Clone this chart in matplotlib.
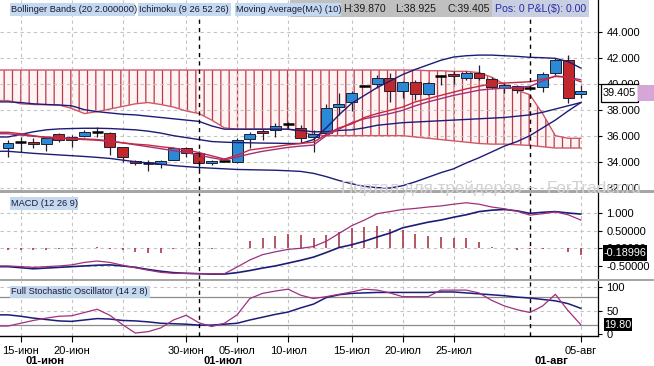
import matplotlib
matplotlib.use("Agg")
import matplotlib.pyplot as plt
from matplotlib.patches import Rectangle
from matplotlib.transforms import blended_transform_factory
import numpy as np

plt.rcParams['font.family'] = ['Liberation Sans', 'DejaVu Sans']
plt.rcParams['hatch.linewidth'] = 0.9

# ---------------- data ----------------
opens = [35.03, 35.49, 35.54, 35.34, 36.11, 35.88, 35.95, 36.30, 36.23, 35.10,
         34.05, 33.93, 33.80, 34.13, 35.03, 34.64, 33.92, 34.05, 33.95, 35.72,
         36.36, 36.42, 36.88, 36.62, 35.92, 36.18, 38.20, 38.57, 39.82, 39.95,
         40.41, 39.44, 40.10, 39.18, 40.58, 40.72, 40.47, 40.85, 40.34, 39.64,
         39.80, 39.66, 39.77, 40.82, 41.82, 39.20]
highs = [35.67, 35.92, 35.80, 35.92, 36.18, 36.05, 36.44, 36.70, 36.25, 35.15,
         34.13, 34.10, 34.13, 35.10, 35.15, 34.82, 34.13, 34.25, 35.80, 36.26,
         36.52, 36.95, 37.05, 36.82, 36.44, 38.42, 39.26, 39.44, 39.90, 40.67,
         40.80, 40.20, 40.28, 40.10, 40.67, 40.95, 40.95, 41.40, 40.50, 40.03,
         39.90, 39.80, 40.92, 41.95, 42.21, 39.87]
lows = [34.38, 34.77, 35.08, 34.82, 35.54, 35.15, 35.92, 35.92, 34.50, 34.00,
        33.75, 33.30, 33.50, 34.10, 34.38, 33.36, 33.75, 33.95, 33.90, 35.03,
        35.67, 35.92, 36.50, 35.41, 34.77, 36.05, 37.60, 37.90, 39.75, 39.64,
        38.62, 38.88, 38.75, 39.10, 39.90, 40.00, 40.30, 40.28, 39.60, 39.26,
        39.26, 39.50, 39.38, 40.67, 38.49, 38.925]
closes = [35.41, 35.49, 35.38, 35.80, 35.65, 35.67, 36.26, 36.30, 35.15, 34.34,
          33.90, 33.93, 34.02, 35.03, 34.69, 33.92, 34.05, 34.05, 35.67, 36.11,
          36.18, 36.75, 36.88, 35.85, 36.11, 38.11, 38.46, 39.26, 39.82, 40.41,
          39.44, 40.10, 39.18, 40.03, 40.58, 40.58, 40.82, 40.41, 39.72, 39.90,
          39.55, 39.66, 40.72, 41.82, 38.90, 39.405]

bb_upper = [35.9, 36.1, 36.3, 36.45, 36.52, 36.55, 36.57, 36.57, 36.55, 36.5,
            36.45, 36.35, 36.2, 36.0, 35.85, 35.7, 35.55, 35.5, 35.47, 35.45,
            35.43, 35.42, 35.4, 35.4, 35.7, 36.6, 37.6, 38.5, 39.1, 39.7,
            40.2, 40.7, 41.1, 41.45, 41.8, 42.05, 42.15, 42.2, 42.2, 42.15,
            42.1, 42.03, 42.0, 41.95, 41.7, 41.2]
bb_lower = [34.8, 34.72, 34.64, 34.58, 34.52, 34.46, 34.4, 34.33, 34.25, 34.12,
            34.0, 33.9, 33.8, 33.7, 33.62, 33.55, 33.5, 33.45, 33.4, 33.38,
            33.36, 33.34, 33.3, 33.25, 33.1, 32.85, 32.55, 32.3, 32.1, 32.0,
            31.97, 32.15, 32.45, 32.8, 33.15, 33.45, 33.9, 34.3, 34.75, 35.2,
            35.55, 36.0, 36.6, 37.2, 37.9, 38.55]
kijun = [38.6, 38.55, 38.45, 38.4, 38.36, 38.3, 38.0, 37.85, 37.75, 37.65,
         37.6, 37.5, 37.4, 37.3, 37.2, 37.1, 36.75, 36.5, 36.5, 36.5,
         36.5, 36.5, 36.5, 36.4, 36.3, 36.3, 36.4, 36.45, 36.6, 36.8,
         36.9, 37.0, 37.05, 37.1, 37.15, 37.2, 37.25, 37.3, 37.35, 37.4,
         37.5, 37.6, 37.8, 38.05, 38.3, 38.55]
tenkan = [36.26, 36.15, 36.0, 35.85, 35.8, 35.75, 35.7, 35.65, 35.55, 35.45,
          35.35, 35.28, 35.15, 35.05, 34.9, 34.7, 34.45, 34.2, 34.5, 34.9,
          35.03, 35.15, 35.3, 35.4, 35.5, 36.1, 36.6, 36.9, 37.4, 37.7,
          37.95, 38.2, 38.6, 38.85, 39.1, 39.35, 39.6, 39.8, 40.0, 40.05,
          40.1, 40.15, 40.35, 40.55, 40.5, 40.15]
ma10 = [36.15, 36.05, 35.95, 35.9, 35.85, 35.8, 35.75, 35.7, 35.6, 35.45,
        35.3, 35.15, 35.0, 34.85, 34.7, 34.5, 34.3, 34.13, 34.35, 34.6,
        34.8, 34.95, 35.1, 35.2, 35.28, 36.0, 36.5, 37.0, 37.3, 37.5,
        37.7, 37.95, 38.3, 38.6, 38.85, 39.1, 39.3, 39.5, 39.6, 39.65,
        39.7, 39.8, 40.2, 40.6, 40.5, 40.3]
senkou_b = [41.05, 41.05, 41.05, 41.05, 41.05, 41.05, 41.05, 41.05, 41.05, 41.05,
            41.05, 41.05, 41.05, 41.05, 41.05, 41.05, 41.05, 41.05, 41.05, 41.05,
            41.05, 41.05, 41.05, 41.05, 41.05, 41.05, 41.05, 41.05, 41.05, 41.05,
            41.05, 41.05, 41.05, 41.0, 41.0, 40.95, 40.95, 40.85, 40.5, 39.95,
            39.5, 39.15, 37.7, 36.0, 35.8, 35.8]
senkou_a = [38.7, 38.45, 38.4, 38.38, 38.36, 38.1, 37.7, 37.85, 38.05, 38.25,
            38.45, 38.55, 38.4, 38.2, 37.9, 37.7, 37.2, 36.6, 36.5, 36.5,
            36.5, 36.5, 36.5, 36.3, 36.05, 36.0, 36.0, 36.0, 36.0, 36.0,
            36.0, 36.0, 35.9, 35.8, 35.7, 35.6, 35.5, 35.4, 35.35, 35.35,
            35.3, 35.25, 35.15, 35.05, 35.05, 35.05]

macd_hist = [-0.06, -0.06, -0.05, -0.05, -0.03, -0.02, 0.02, 0.03, -0.02, -0.05,
             -0.1, -0.14, -0.12, -0.02, 0.0, -0.02, -0.03, 0.0, 0.02, 0.22,
             0.28, 0.35, 0.41, 0.38, 0.28, 0.38, 0.47, 0.57, 0.6, 0.62,
             0.54, 0.51, 0.41, 0.36, 0.33, 0.28, 0.28, 0.19, 0.05, 0.01,
             -0.04, -0.03, -0.03, 0.0, -0.1, -0.19]
macd_line = [-0.5, -0.52, -0.54, -0.52, -0.5, -0.47, -0.4, -0.36, -0.4, -0.48,
             -0.55, -0.62, -0.68, -0.71, -0.71, -0.72, -0.72, -0.72, -0.53, -0.33,
             -0.18, -0.1, -0.03, 0.0, 0.05, 0.2, 0.42, 0.64, 0.8, 0.98,
             1.04, 1.1, 1.13, 1.17, 1.2, 1.25, 1.29, 1.25, 1.17, 1.12,
             1.05, 0.94, 0.98, 1.03, 0.95, 0.8]
macd_signal = [-0.52, -0.55, -0.58, -0.56, -0.54, -0.52, -0.5, -0.48, -0.47, -0.5,
               -0.54, -0.6, -0.65, -0.69, -0.71, -0.72, -0.73, -0.73, -0.69, -0.63,
               -0.56, -0.5, -0.42, -0.34, -0.25, -0.12, 0.02, 0.1, 0.2, 0.32,
               0.43, 0.58, 0.66, 0.74, 0.8, 0.88, 0.95, 1.04, 1.08, 1.1,
               1.06, 0.99, 1.02, 1.04, 1.0, 0.97]

sto_k = [17, 23, 29, 34, 38, 39, 46, 53, 40, 20,
         2, 5, 13, 30, 40, 24, 16, 23, 41, 76,
         87, 92, 96, 83, 76, 80, 85, 90, 96, 94,
         88, 80, 80, 80, 94, 94, 94, 88, 72, 60,
         52, 46, 60, 85, 50, 19.8]
sto_d = [41, 38, 34, 31, 28, 27, 30, 33, 32, 29,
         28, 26, 23, 22, 21, 19, 19, 21, 23, 30,
         36, 42, 47, 56, 64, 78, 84, 87, 88, 89,
         89, 89, 89, 89, 90, 90, 88, 86, 84, 82,
         79, 77, 74, 71, 65, 55]

tick_bars = [1, 5, 14, 18, 22, 27, 31, 35, 45]
tick_labels = ['15-июн', '20-июн', '30-июн', '05-июл', '10-июл',
               '15-июл', '20-июл', '25-июл', '05-авг']
grid_bars = [1, 5, 9, 14, 18, 22, 27, 31, 35, 39, 45]
month_bars = [15, 41]
month_label_bars = [1, 15, 41]
month_labels = ['01-июн', '01-июл', '01-авг']

price_ticks = [32, 34, 36, 38, 40, 42, 44]
macd_ticks = [-0.5, 0.0, 0.5, 1.0]
macd_tick_labels = ['-0.50000', '0.00000', '0.50000', '1.000']
sto_ticks = [0, 50, 100]

last_close = '39.405'
last_macd = '-0.18996'
last_sto = '19.80'

# ---------------- layout ----------------
W, H = 654, 366
fig = plt.figure(figsize=(W / 100, H / 100), dpi=100)
fig.patch.set_facecolor('white')

def rect_px(x0, y0, x1, y1):
    return [x0 / W, 1 - y1 / H, (x1 - x0) / W, (y1 - y0) / H]

AXR = 598
ax_main = fig.add_axes(rect_px(0, 0, AXR, 190))
ax_macd = fig.add_axes(rect_px(0, 193, AXR, 279))
ax_sto = fig.add_axes(rect_px(0, 281, AXR, 336))

n = len(closes)
bars = np.arange(n)
XL, XR = -0.63, 46.35

NAVY = '#1c1c78'
RED_L = '#c8283e'
PURP = '#a0307c'
CLOUD_EDGE = '#d05868'
HATCH = '#b83a4a'
BLUE_C = '#2a8ad8'
RED_C = '#c0282c'
GRID = '#c4c4c4'

def ext(v):
    return np.r_[XL, bars], np.r_[v[0], v]

for ax in (ax_main, ax_macd, ax_sto):
    ax.set_xlim(XL, XR)
    ax.set_facecolor('white')
    for s in ('top', 'left', 'bottom'):
        ax.spines[s].set_visible(False)
    ax.spines['right'].set_color('black')
    ax.spines['right'].set_linewidth(0.9)
    ax.yaxis.tick_right()
    ax.tick_params(axis='y', direction='out', length=3, width=0.8,
                   labelsize=8, pad=3, colors='black')
    for gb in grid_bars:
        ax.axvline(gb, color=GRID, lw=0.8, ls=(0, (3, 3)), zorder=1.5)
    for mb in month_bars:
        ax.axvline(mb, color='black', lw=1.0, ls=(0, (3, 3)), zorder=6)

# ---- main panel ----
ax_main.set_ylim(31.82, 46.44)
ax_main.set_yticks(price_ticks, ['%.3f' % t for t in price_ticks])
ax_main.set_xticks([])
for t in price_ticks:
    ax_main.axhline(t, color=GRID, lw=0.8, ls=(0, (3, 3)), zorder=1.5)

xa, sa = ext(senkou_a)
xb, sb = ext(senkou_b)
ax_main.fill_between(xa, sa, sb, facecolor='#fff3f3', edgecolor=HATCH,
                     hatch='||', linewidth=0, zorder=1)
ax_main.plot(xa, sa, color=CLOUD_EDGE, lw=1.0, zorder=2)
ax_main.plot(xb, sb, color=CLOUD_EDGE, lw=1.0, zorder=2)

bw = 0.86
for i in range(n):
    o, h, l, c = opens[i], highs[i], lows[i], closes[i]
    ax_main.vlines(i, l, h, color='#202030', lw=0.9, zorder=3)
    if c == o:
        ax_main.hlines(o, i - bw / 2, i + bw / 2, color='black', lw=1.8, zorder=3.2)
    else:
        col = BLUE_C if c > o else RED_C
        ax_main.add_patch(Rectangle((i - bw / 2, min(o, c)), bw, abs(c - o),
                                    facecolor=col, edgecolor='#202030',
                                    lw=0.7, zorder=3.1))

for arr, col in ((bb_upper, NAVY), (bb_lower, NAVY), (kijun, NAVY),
                 (ma10, PURP), (tenkan, RED_L)):
    xx, yy = ext(arr)
    ax_main.plot(xx, yy, color=col, lw=1.0, zorder=4)

# ---- MACD panel ----
ax_macd.set_ylim(-0.87, 1.567)
ax_macd.set_yticks(macd_ticks, macd_tick_labels)
ax_macd.set_xticks([])
for t in macd_ticks:
    ax_macd.axhline(t, color=GRID, lw=0.8, ls=(0, (3, 3)), zorder=1.5)
ax_macd.vlines(bars, 0, macd_hist, color='#a02838', lw=1.1, zorder=3)
xx, yy = ext(macd_signal)
ax_macd.plot(xx, yy, color=NAVY, lw=1.2, zorder=4)
xx, yy = ext(macd_line)
ax_macd.plot(xx, yy, color=PURP, lw=0.9, zorder=4)

# ---- Stochastic panel ----
ax_sto.set_ylim(-4.3, 113.5)
ax_sto.set_yticks(sto_ticks, [str(t) for t in sto_ticks])
for t in (50, 100):
    ax_sto.axhline(t, color=GRID, lw=0.8, ls=(0, (3, 3)), zorder=1.5)
for t in (20, 80):
    ax_sto.axhline(t, color='#8c8c8c', lw=0.9, zorder=1.6)
xx, yy = ext(sto_d)
ax_sto.plot(xx, yy, color=NAVY, lw=1.1, zorder=4)
xx, yy = ext(sto_k)
ax_sto.plot(xx, yy, color=PURP, lw=0.9, zorder=4)
ax_sto.spines['bottom'].set_visible(True)
ax_sto.spines['bottom'].set_color('black')
ax_sto.spines['bottom'].set_linewidth(1.0)
ax_sto.set_xticks(tick_bars, tick_labels)
ax_sto.tick_params(axis='x', direction='out', length=4, width=0.8,
                   labelsize=8, pad=3, colors='black')

tr = blended_transform_factory(ax_sto.transData, fig.transFigure)
for mb, ml in zip(month_label_bars, month_labels):
    ax_sto.text(mb + 0.38, 1 - 361 / H, ml, transform=tr, ha='left', va='center',
                fontsize=8, fontweight='bold', color='black', clip_on=False)

# ---------------- figure-level decorations ----------------
def box(x0, y0, x1, y1, fc, ec='none', lw=0, z=10):
    r = Rectangle((x0 / W, 1 - y1 / H), (x1 - x0) / W, (y1 - y0) / H,
                  transform=fig.transFigure, facecolor=fc, edgecolor=ec,
                  linewidth=lw, zorder=z)
    fig.add_artist(r)

def txt(x, y, s, z=11, **kw):
    fig.text(x / W, 1 - y / H, s, va='center', zorder=z, **kw)

# separators between panels
box(0, 190, W, 193, '#a6a6a6', z=9)
box(0, 278.5, W, 281, '#a6a6a6', z=9)

# watermark
txt(341, 188.5, 'Портал для трейдеров', fontsize=12.3, color='#d2d2d2', z=12)
txt(528, 188.5, '-', fontsize=12.3, color='#d2d2d2', z=12)
txt(547, 188.5, 'ForTrader.ru', fontsize=12.3, color='#d2d2d2', z=12)

# top legend bar
LB = '#c4d8ee'
box(290, 0, 492, 17, '#c0c0c0')
box(492, 0, 589, 17, '#c8cfe0')
box(10, 3, 135, 16, LB, z=10.5)
box(138, 3, 231, 16, LB, z=10.5)
box(235, 3, 341, 16, LB, z=10.5)
txt(11, 9.5, 'Bollinger Bands (20 2.000000)', fontsize=6.7, color='#1a1a3a')
txt(139, 9.5, 'Ichimoku (9 26 52 26)', fontsize=6.7, color='#1a1a3a')
txt(236, 9.5, 'Moving Average(MA) (10)', fontsize=6.7, color='#1a1a3a')
txt(343, 8.5, 'H:39.870', fontsize=7.6, color='#1a1a1a')
txt(395, 8.5, 'L:38.925', fontsize=7.6, color='#1a1a1a')
txt(447, 8.5, 'C:39.405', fontsize=7.6, color='#1a1a1a')
txt(495, 8.5, 'Pos: 0 P&L($): 0.00', fontsize=7.6, color='#2a2aa8')

# sub-panel labels
box(10, 197, 78, 210, LB)
txt(11, 203.5, 'MACD (12 26 9)', fontsize=6.7, color='#1a1a3a')
box(10, 286, 150, 298, LB)
txt(11, 292, 'Full Stochastic Oscillator (14 2 8)', fontsize=6.7, color='#1a1a3a')

# value badges on right axis
box(600.5, 83.5, 638, 102, 'white', ec='black', lw=0.9, z=12)
box(638, 84.5, W, 101, '#d6a6d6', z=12)
txt(619.5, 93, last_close, fontsize=7.8, color='black', ha='center', z=13)
box(603, 245, 647, 261, 'black', z=12)
txt(625, 253, last_macd, fontsize=7.8, color='white', ha='center', z=13)
box(604, 318, 632, 331, 'black', z=12)
txt(618, 324.5, last_sto, fontsize=7.8, color='white', ha='center', z=13)

fig.savefig('out.png', dpi=100, facecolor='white')
